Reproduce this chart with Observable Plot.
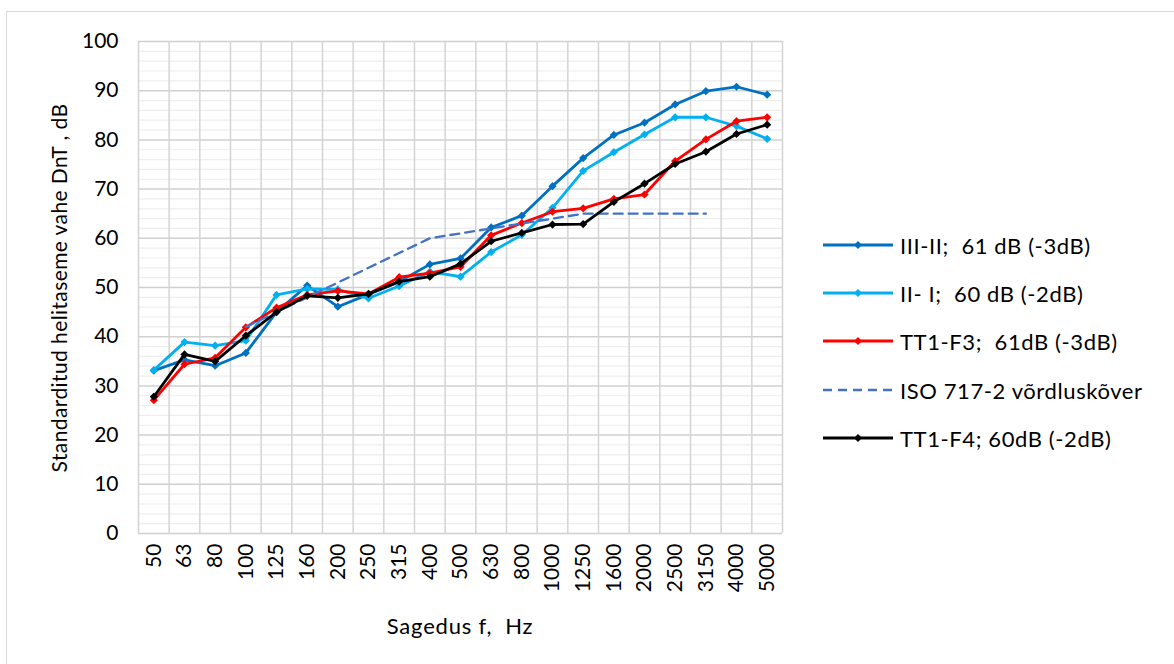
<!DOCTYPE html>
<html>
<head>
<meta charset="utf-8">
<script src="https://cdn.jsdelivr.net/npm/d3@7"></script>
<script src="https://cdn.jsdelivr.net/npm/@observablehq/plot@0.6"></script>
<style>
  body { margin: 0; background: #fff; }
  #wrap { position: relative; width: 1174px; height: 664px; overflow: hidden; font-family: Lato, "Open Sans", sans-serif; color: #000; }
  #frame { position: absolute; left: 6px; top: 11px; width: 1200px; height: 700px; border: 1px solid #d9d9d9; box-sizing: border-box; }
  #chart { position: absolute; left: 0; top: 0; }
  .ytitle { position: absolute; left: 58px; top: 288px; transform: translate(-50%, -50%) rotate(-90deg); white-space: pre; font-size: 21px; letter-spacing: 0.4px; }
  .xtitle { position: absolute; left: 460px; top: 625px; transform: translate(-50%, -50%); white-space: pre; font-size: 22px; letter-spacing: 0.8px; }
  .leg { position: absolute; left: 823px; height: 26px; display: flex; align-items: center; white-space: pre; font-size: 22px; letter-spacing: 0.6px; }
  .leg svg { margin-right: 7px; }
</style>
</head>
<body>
<div id="wrap">
  <div id="frame"></div>
  <div id="chart"></div>
  <div class="ytitle">Standarditud helitaseme vahe DnT , dB</div>
  <div class="xtitle">Sagedus f,  Hz</div>
  <div id="legend"></div>
</div>
<script>
const categories = ["50","63","80","100","125","160","200","250","315","400","500","630","800","1000","1250","1600","2000","2500","3150","4000","5000"];
const seriesNames = ["III-II;  61 dB (-3dB)", "II- I;  60 dB (-2dB)", "TT1-F3;  61dB (-3dB)", "ISO 717-2 võrdluskõver", "TT1-F4; 60dB (-2dB)"];
const seriesColors = ["#0070C0", "#00B0F0", "#FF0000", "#4472C4", "#000000"];

const iii_ii = [33.1, 35.3, 34.1, 36.7, 45.0, 50.4, 46.1, 48.6, 51.2, 54.7, 55.9, 62.2, 64.6, 70.6, 76.3, 81.0, 83.5, 87.2, 89.9, 90.8, 89.2];
const ii_i   = [33.2, 38.9, 38.2, 39.2, 48.5, 49.7, 49.6, 47.8, 50.3, 53.2, 52.2, 57.2, 60.7, 66.2, 73.7, 77.5, 81.1, 84.6, 84.6, 82.8, 80.2];
const tt1_f3 = [27.1, 34.4, 35.7, 41.9, 45.9, 48.5, 49.3, 48.7, 52.1, 52.9, 54.2, 60.6, 63.1, 65.4, 66.1, 68.0, 68.9, 75.7, 80.1, 83.8, 84.6];
const isoCategories = ["100","125","160","200","250","315","400","500","630","800","1000","1250","1600","2000","2500","3150"];
const isoValues = [42, 45, 48, 51, 54, 57, 60, 61, 62, 63, 64, 65, 65, 65, 65, 65];
const tt1_f4 = [27.8, 36.4, 35.0, 40.2, 45.0, 48.3, 47.9, 48.7, 51.2, 52.2, 54.8, 59.4, 61.1, 62.8, 62.9, 67.4, 71.1, 75.1, 77.6, 81.2, 83.1];

const idx = c => categories.indexOf(c);
const mk = (vals, s) => vals.map((v, i) => ({i, v, s}));
const d1 = mk(iii_ii, 0), d2 = mk(ii_i, 1), d3s = mk(tt1_f3, 2), d5 = mk(tt1_f4, 4);
const dIso = isoCategories.map((c, k) => ({i: idx(c), v: isoValues[k], s: 3}));

const lineMarks = [];
const addSeries = (data, s, dashed) => {
  lineMarks.push(Plot.line(data, {x: "i", y: "v", stroke: seriesColors[s], strokeWidth: dashed ? 2.3 : 2.8, strokeDasharray: dashed ? "9,6" : null, strokeLinejoin: "round"}));
  if (!dashed) lineMarks.push(Plot.dot(data, {x: "i", y: "v", symbol: "diamond2", r: 3.7, fill: seriesColors[s], stroke: "none"}));
};
addSeries(d1, 0); addSeries(d2, 1); addSeries(d3s, 2); addSeries(dIso, 3, true); addSeries(d5, 4);

const minorTicks = d3.range(0, 101, 2).filter(v => v % 10 !== 0);
const majorTicks = d3.range(0, 101, 10);
const boundaries = d3.range(categories.length + 1).map(k => k - 0.5);

const chart = Plot.plot({
  width: 1174, height: 664,
  marginLeft: 138, marginRight: 392, marginTop: 41, marginBottom: 131,
  style: {fontFamily: "Lato, 'Open Sans', sans-serif", fontSize: "21px", color: "#000", background: "transparent", overflow: "visible"},
  x: {type: "linear", domain: [-0.5, categories.length - 0.5], ticks: d3.range(categories.length), tickFormat: i => categories[i], tickRotate: -90, tickSize: 0, tickPadding: 10, label: null},
  y: {domain: [0, 100], ticks: majorTicks, tickSize: 0, tickPadding: 20, label: null},
  marks: [
    Plot.ruleY(minorTicks, {stroke: "#eeeeee", strokeWidth: 1.2}),
    Plot.ruleY(majorTicks, {stroke: "#d0d0d0", strokeWidth: 1.5}),
    Plot.ruleX(boundaries, {stroke: "#d4d4d4", strokeWidth: 1.5}),
    ...lineMarks
  ]
});
document.getElementById("chart").appendChild(chart);

const legendY = [245, 293, 341, 390, 438];
const legend = document.getElementById("legend");
seriesNames.forEach((name, k) => {
  const row = document.createElement("div");
  row.className = "leg";
  row.style.top = (legendY[k] - 13) + "px";
  const dashed = k === 3;
  const col = seriesColors[k];
  row.innerHTML = `<svg width="70" height="12"><line x1="0" x2="70" y1="6" y2="6" stroke="${col}" stroke-width="${dashed ? 2.3 : 2.8}" ${dashed ? 'stroke-dasharray="9,6"' : ''}/>${dashed ? '' : `<path d="M35,2 L39,6 L35,10 L31,6 Z" fill="${col}"/>`}</svg>`;
  const span = document.createElement("span");
  span.textContent = name;
  row.appendChild(span);
  legend.appendChild(row);
});
</script>
</body>
</html>
